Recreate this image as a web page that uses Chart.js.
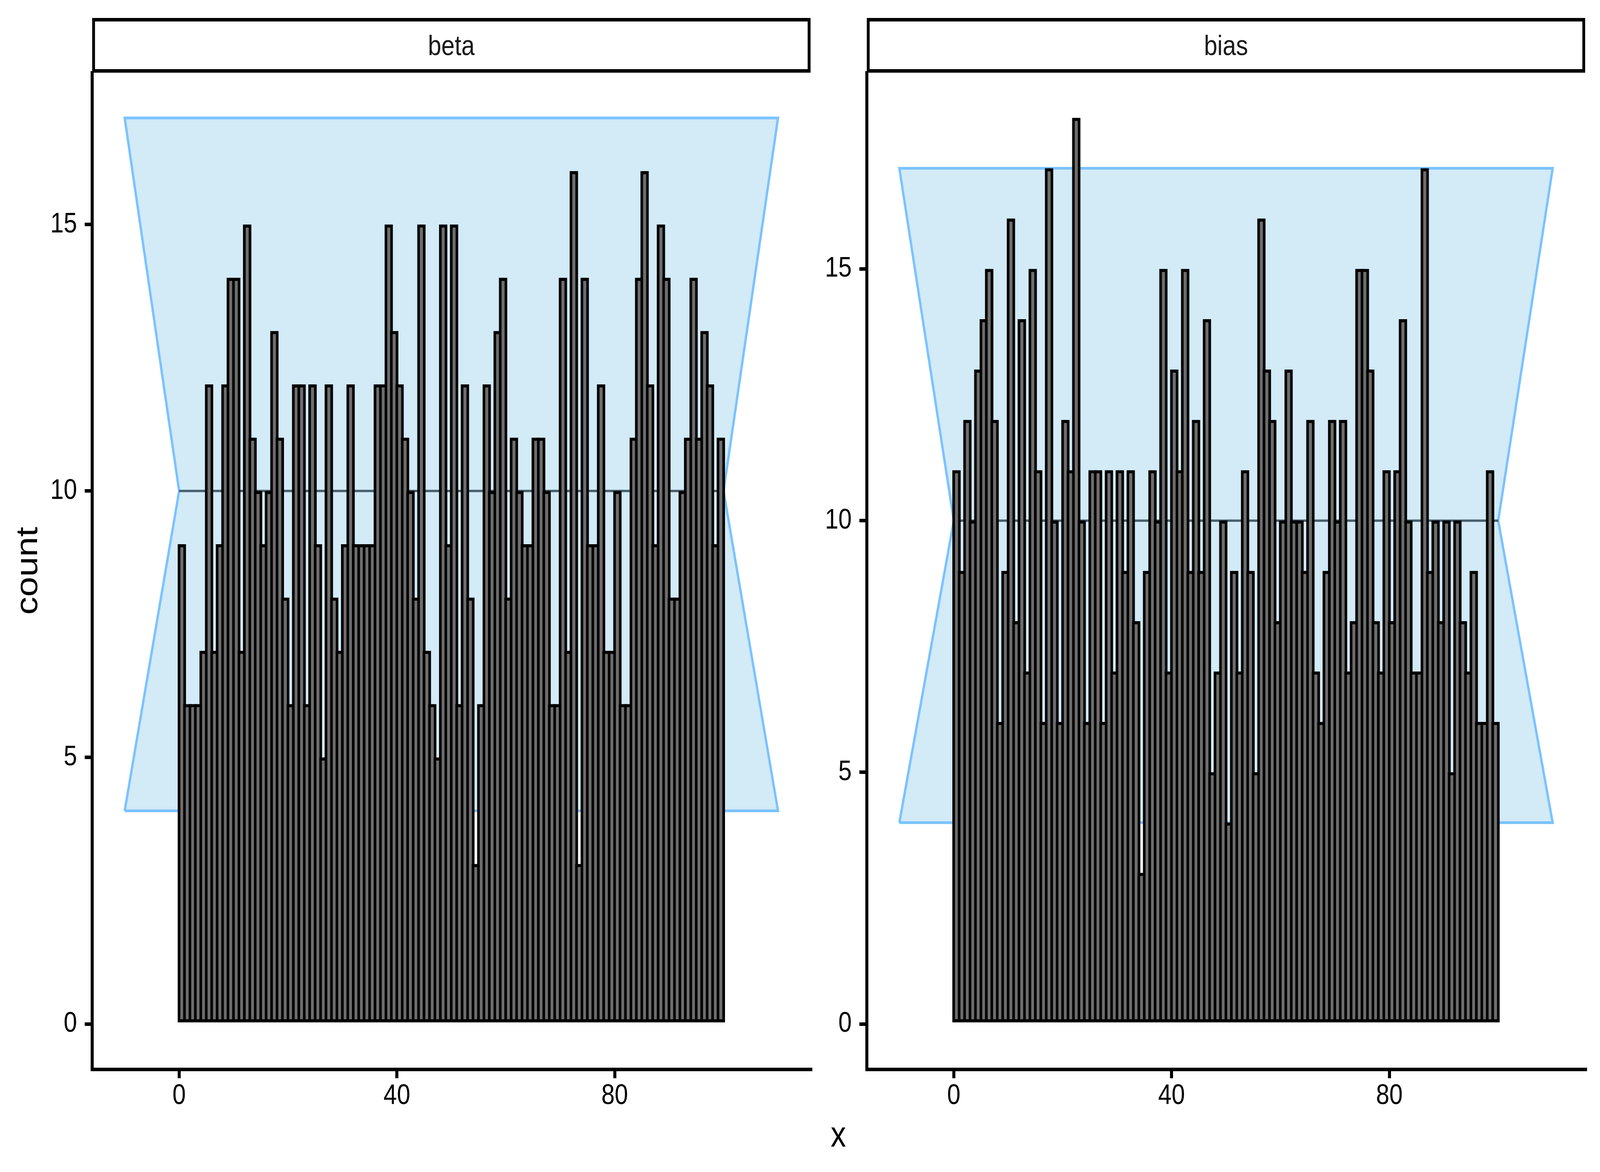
<!DOCTYPE html>
<html>
<head>
<meta charset="utf-8">
<script src="https://cdn.jsdelivr.net/npm/chart.js@4.4.1/dist/chart.umd.min.js"></script>
<style>
  html, body { margin: 0; padding: 0; background: #fff; width: 100%; height: 100%; overflow: hidden; }
  body { font-family: 'Liberation Sans', Arial, sans-serif; }
  #page { position: absolute; left: 0; top: 0; width: 4800px; height: 3000px; transform-origin: 0 0; background: #fff; }
  canvas { position: absolute; top: 0; }
  .strip { position: absolute; top: 46px; height: 140px; box-sizing: border-box; border: 9px solid #000; background: #fff;
           display: flex; align-items: center; justify-content: center; font-size: 72px; color: #1a1a1a; }
  .title { position: absolute; font-size: 92px; line-height: 92px; white-space: nowrap; color: #000; }
</style>
</head>
<body>
<div id="page">
  <canvas id="betaChart" width="2460" height="3000" style="left:0"></canvas>
  <canvas id="biasChart" width="2476" height="3000" style="left:2324px"></canvas>
  <div class="strip" style="left:276px;width:2156px">beta</div>
  <div class="strip" style="left:2600px;width:2156px">bias</div>
  <div class="title" style="left:79px;top:1461px;transform:translate(-50%,-50%) rotate(-90deg)">count</div>
  <div class="title" style="left:2515px;top:2857px;transform:translateX(-50%)">x</div>
</div>
<script>
// counts per bin (bins [0,1), [1,2) ... [99,100))
const betaCounts = [
    9, 6, 6, 6, 7, 12, 7, 9, 12, 14,
    14, 7, 15, 11, 10, 9, 10, 13, 11, 8,
    6, 12, 12, 6, 12, 9, 5, 12, 8, 7,
    9, 12, 9, 9, 9, 9, 12, 12, 15, 13,
    12, 11, 10, 8, 15, 7, 6, 5, 15, 9,
    15, 6, 12, 8, 3, 6, 12, 10, 13, 14,
    8, 11, 10, 9, 9, 11, 11, 10, 6, 6,
    14, 7, 16, 3, 14, 9, 9, 12, 7, 7,
    10, 6, 6, 11, 14, 16, 12, 9, 15, 14,
    8, 8, 10, 11, 14, 11, 13, 12, 9, 11
];
const biasCounts = [
    11, 9, 12, 10, 13, 14, 15, 12, 6, 9,
    16, 8, 14, 7, 15, 11, 6, 17, 10, 6,
    12, 11, 18, 10, 6, 11, 11, 6, 11, 7,
    11, 9, 11, 8, 3, 9, 11, 10, 15, 7,
    13, 11, 15, 9, 12, 9, 14, 5, 7, 10,
    4, 9, 7, 11, 9, 5, 16, 13, 12, 8,
    10, 13, 10, 10, 9, 12, 7, 6, 9, 12,
    10, 12, 7, 8, 15, 15, 13, 8, 7, 11,
    8, 11, 14, 10, 7, 7, 17, 9, 10, 8,
    10, 5, 10, 8, 7, 9, 6, 6, 11, 6
];
const binStarts = Array.from({ length: 100 }, (_, i) => i);

// confidence band (hourglass) and expected count line
const ribbonX = [-10, 0, -10, 110, 100, 110, -10];
const ribbonY = [4, 10, 17, 17, 10, 4, 4];
const refX = [0, 100];
const refY = [10, 10];

const xTicks = [0, 40, 80];
const yTicks = [0, 5, 10, 15];

const tickFont = { family: "'Liberation Sans', Arial, sans-serif", size: 72 };

// layout is drawn on a 4800x3000 page, stretched to whatever the window really is
const page = document.getElementById('page');
function fitPage() {
    const sx = window.innerWidth / 4800;
    const sy = window.innerHeight / 3000;
    page.style.transform = 'scale(' + sx + ',' + sy + ')';
}
fitPage();
window.addEventListener('resize', fitPage);

function makePanel(canvasId, counts, yMin, yMax, padRight) {
    const ctx = document.getElementById(canvasId).getContext('2d');
    return new Chart(ctx, {
        type: 'bar',
        data: {
            datasets: [
                {
                    type: 'bar',
                    data: binStarts.map((b, i) => ({ x: b + 0.5, y: counts[i] })),
                    backgroundColor: '#6e6e6e',
                    borderColor: '#000',
                    borderWidth: 8,
                    borderSkipped: false,
                    barThickness: 24.5,
                    order: 0,
                },
                {
                    type: 'line',
                    data: refX.map((x, i) => ({ x: x, y: refY[i] })),
                    borderColor: '#47606e',
                    borderWidth: 6,
                    pointRadius: 0,
                    pointHoverRadius: 0,
                    fill: false,
                    order: 1,
                },
                {
                    type: 'line',
                    data: ribbonX.map((x, i) => ({ x: x, y: ribbonY[i] })),
                    borderColor: '#7ac2ff',
                    backgroundColor: '#d3eaf7',
                    borderWidth: 7,
                    pointRadius: 0,
                    pointHoverRadius: 0,
                    tension: 0,
                    fill: 'shape',
                    order: 2,
                },
            ],
        },
        options: {
            responsive: false,
            animation: false,
            devicePixelRatio: 1,
            layout: { padding: { top: 186, right: padRight, left: 0, bottom: 0 } },
            plugins: { legend: { display: false }, tooltip: { enabled: false } },
            scales: {
                x: {
                    type: 'linear',
                    min: -16,
                    max: 116,
                    offset: false,
                    afterBuildTicks: s => { s.ticks = xTicks.map(v => ({ value: v })); },
                    afterFit: s => { s.height = 263; },
                    grid: { display: true, offset: false, drawOnChartArea: false, drawTicks: true, tickLength: 23, color: '#000', lineWidth: 9 },
                    border: { display: true, color: '#000', width: 9 },
                    ticks: { color: '#000', font: tickFont, padding: 3, maxRotation: 0, autoSkip: false },
                },
                y: {
                    type: 'linear',
                    min: yMin,
                    max: yMax,
                    afterBuildTicks: s => { s.ticks = yTicks.map(v => ({ value: v })); },
                    afterFit: s => { s.width = 276; },
                    grid: { display: true, drawOnChartArea: false, drawTicks: true, tickLength: 22, color: '#000', lineWidth: 9 },
                    border: { display: true, color: '#000', width: 9 },
                    ticks: { color: '#000', font: tickFont, padding: 23, autoSkip: false },
                },
            },
        },
    });
}

makePanel('betaChart', betaCounts, -0.85, 17.85, 28);
makePanel('biasChart', biasCounts, -0.9, 18.9, 44);
</script>
</body>
</html>
